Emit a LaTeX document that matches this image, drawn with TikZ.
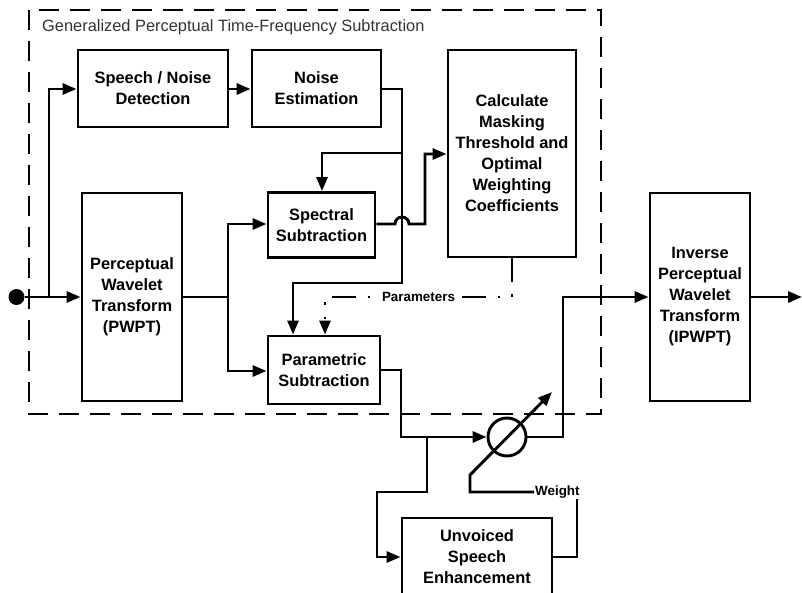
\documentclass[tikz,border=0pt]{standalone}
\usepackage{fontspec}
\setmainfont{Liberation Sans}
\usetikzlibrary{arrows.meta}
\begin{document}
\begin{tikzpicture}[x=1pt,y=-1pt,
  lw/.style={line width=2.9pt},
  blk/.style={draw, lw, align=center, inner sep=0pt,
    font=\bfseries\fontsize{16.4}{21}\selectfont},
  conn/.style={lw, line join=miter, -{Triangle[length=14pt,width=11pt]}},
  plain/.style={lw, line join=miter},
  param/.style={line width=2.2pt, dash pattern=on 24pt off 12pt on 2.5pt off 12pt on 2.5pt off 12pt},
  lab/.style={font=\bfseries\fontsize{13.4}{16}\selectfont, inner sep=1pt}]
\useasboundingbox (0,0) rectangle (802,593);
\clip (0,0) rectangle (802,593);
% dashed frame
\draw[lw, dash pattern=on 20pt off 11pt] (29,10) rectangle (601,414);
\node[anchor=base west, text=black!80, font=\fontsize{16.4}{20}\selectfont, inner sep=0pt] (title) at (42,32) {Generalized Perceptual Time-Frequency Subtraction};
% blocks
\node[blk, minimum width=150pt, minimum height=77pt] (snd) at (153,88.5) {Speech / Noise\\Detection};
\node[blk, minimum width=129pt, minimum height=77pt] (ne) at (316.5,88.5) {Noise\\Estimation};
\node[blk, minimum width=128pt, minimum height=207pt] (calc) at (512,153.5) {Calculate\\Masking\\Threshold and\\Optimal\\Weighting\\Coefficients};
\node[blk, minimum width=100pt, minimum height=208pt] (pwpt) at (132,297) {Perceptual\\Wavelet\\Transform\\(PWPT)};
\node[blk, minimum width=107pt, minimum height=65pt] (sp) at (321.5,225) {Spectral\\Subtraction};
\node[blk, minimum width=112pt, minimum height=68pt] (par) at (324,370) {Parametric\\Subtraction};
\node[blk, minimum width=100pt, minimum height=208pt] (ipwpt) at (700,297) {Inverse\\Perceptual\\Wavelet\\Transform\\(IPWPT)};
\node[blk, minimum width=150pt, minimum height=78pt] (ue) at (477,557) {Unvoiced\\Speech\\Enhancement};
\node[circle, draw, lw, minimum size=38pt, inner sep=0pt] (wt) at (507,437) {};
\node[circle, fill, minimum size=16pt, inner sep=0pt] (in) at (16.5,297) {};
\node[lab, anchor=west] (weight) at (534,492) {Weight};
\coordinate (out) at (802,297);
% connections
\draw[conn] (in) -- (pwpt.west);
\draw[conn] (49,297) -- (49,89) -- (snd.west |- 0,89);
\draw[conn] (snd.east |- 0,89) -- (ne.west |- 0,89);
\draw[conn] (ne.east |- 0,89) -- (402,89) -- (402,283) -- (293,283) -- (par.north -| 293,0);
\draw[conn] (402,153) -- (322,153) -- (sp.north -| 322,0);
\draw[plain] (pwpt.east) -- (228,297);
\draw[conn] (228,297) -- (228,224) -- (sp.west |- 0,224);
\draw[conn] (228,297) -- (228,371) -- (par.west |- 0,371);
\draw[conn] (sp.east |- 0,224) -- (395,224) arc[start angle=180, end angle=360, radius=7] -- (425,224) -- (425,154) -- (calc.west |- 0,154);
\draw[param] (calc.south) -- (512,297) -- node[lab, fill=white, inner sep=1.5pt] (plab) {Parameters} (325,297) -- (325,322);
\draw[conn] (325,321) -- (par.north -| 325,0);
\draw[conn] (par.east |- 0,370) -- (401,370) -- (401,437) -- (wt.west);
\draw[conn] (427,437) -- (427,492) -- (377,492) -- (377,557) -- (ue.west);
\draw[conn] (wt.east) -- (563,437) -- (563,297) -- (ipwpt.west);
\draw[conn] (ipwpt.east) -- (out);
\draw[plain] (ue.east) -- (577,557) -- (weight.south -| 577,0);
\draw[conn] (weight.west) -- (470,492) -- (470,475) -- (552,392);
\end{tikzpicture}
\end{document}
